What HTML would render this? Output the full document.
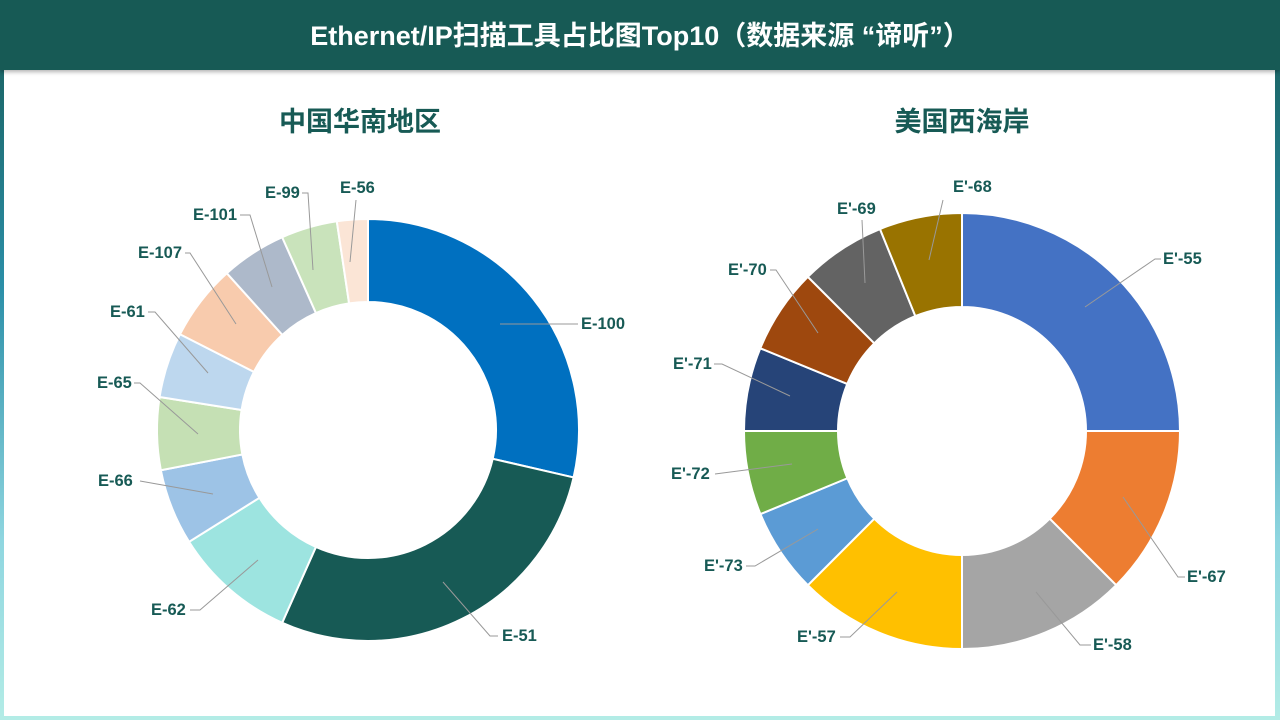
<!DOCTYPE html>
<html><head><meta charset="utf-8"><style>
html,body{margin:0;padding:0}
body{width:1280px;height:720px;overflow:hidden;background:linear-gradient(180deg,#175a55 0%,#2b8fa8 40%,#8fd6e0 75%,#b3ece6 100%);position:relative;font-family:"Liberation Sans","Noto Sans CJK SC",sans-serif}
#card{position:absolute;left:4px;top:70px;width:1271px;height:646px;background:#fff}
#hdr{position:absolute;left:0;top:0;width:1280px;height:70px;background:#175a55;color:#fff;font-weight:bold;font-size:27px;text-align:center;line-height:72px;box-shadow:0 2px 4px rgba(0,0,0,.3)}
svg{position:absolute;left:0;top:0}
text{font-family:"Liberation Sans","Noto Sans CJK SC",sans-serif;font-weight:bold;fill:#175a55;font-size:16.5px}
</style></head><body>
<div id="card"></div>
<div id="hdr">Ethernet/IP扫描工具占比图Top10（数据来源 “谛听”）</div>
<svg id="s" width="1280" height="720" xmlns="http://www.w3.org/2000/svg">
<text x="360" y="131" text-anchor="middle" style="font-size:27px">中国华南地区</text>
<text x="962" y="131" text-anchor="middle" style="font-size:27px">美国西海岸</text>
<g id="L"></g><g id="R"></g>
<g stroke="#999" stroke-width="1" fill="none">
<polyline points="500,324 578,324"/>
<polyline points="443,582 490,636 498,636"/>
<polyline points="258,560 200,610 190,610"/>
<polyline points="213,494 140,481"/>
<polyline points="198,434 140,383 134,383"/>
<polyline points="208,373 155,312 148,312"/>
<polyline points="236,324 190,253 185,253"/>
<polyline points="272,287 250,215 240,215"/>
<polyline points="313,270 308,193 302,193"/>
<polyline points="350,262 356,200"/>
<polyline points="1085,307 1155,259 1161,259"/>
<polyline points="1123,497 1178,577 1185,577"/>
<polyline points="1036,592 1080,645 1091,645"/>
<polyline points="897,592 850,637 840,637"/>
<polyline points="818,529 755,566 746,566"/>
<polyline points="792,464 715,474"/>
<polyline points="790,396 722,364 714,364"/>
<polyline points="818,333 776,270 770,270"/>
<polyline points="865,283 862,220"/>
<polyline points="929,260 943,200"/>
</g>
<g>
<text x="581" y="329">E-100</text>
<text x="502" y="641">E-51</text>
<text x="151" y="615">E-62</text>
<text x="98" y="486">E-66</text>
<text x="97" y="388">E-65</text>
<text x="110" y="317">E-61</text>
<text x="138" y="258">E-107</text>
<text x="193" y="220">E-101</text>
<text x="265" y="198">E-99</text>
<text x="340" y="193">E-56</text>
<text x="1163" y="264">E'-55</text>
<text x="1187" y="582">E'-67</text>
<text x="1093" y="650">E'-58</text>
<text x="797" y="642">E'-57</text>
<text x="704" y="571">E'-73</text>
<text x="671" y="479">E'-72</text>
<text x="673" y="369">E'-71</text>
<text x="728" y="275">E'-70</text>
<text x="837" y="214">E'-69</text>
<text x="953" y="192">E'-68</text>
</g>
</svg>
<script>
function donut(id,cx,cy,R,r,ang,cols){
 var g=document.getElementById(id),h='';
 function p(a,rad){a=a*Math.PI/180;return (cx+rad*Math.sin(a)).toFixed(2)+','+(cy-rad*Math.cos(a)).toFixed(2);}
 for(var i=0;i<cols.length;i++){
  var a0=ang[i],a1=ang[i+1],lg=(a1-a0)>180?1:0;
  h+='<path d="M'+p(a0,R)+' A'+R+','+R+' 0 '+lg+' 1 '+p(a1,R)+' L'+p(a1,r)+' A'+r+','+r+' 0 '+lg+' 0 '+p(a0,r)+' Z" fill="'+cols[i]+'" stroke="#fff" stroke-width="2"/>';
 }
 g.innerHTML=h;
}
donut('L',368,430,211,128,[0,103,204,238,259,279,297,318,336,351.5,360],
 ['#0070c0','#175a55','#9de4e0','#9dc3e6','#c5e0b4','#bdd7ee','#f8cbad','#adb9ca','#c9e3bb','#fbe5d6']);
donut('R',962,431,218,124,[0,90,135,180,225,247.6,270,292.3,315,337.9,360],
 ['#4472c4','#ed7d31','#a5a5a5','#ffc000','#5b9bd5','#70ad47','#264478','#9e480e','#636363','#997300']);
</script>
</body></html>
